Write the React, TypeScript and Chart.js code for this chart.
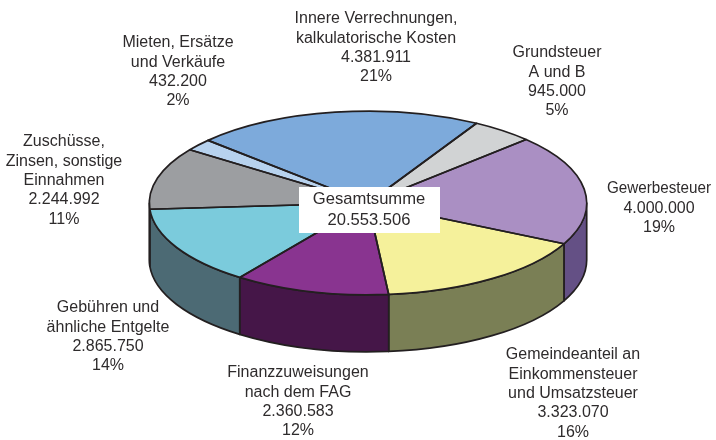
import React, { useEffect, useRef } from "react";
import { Chart, registerables } from "chart.js";

Chart.register(...registerables);

const categories: string[][] = [
  ["Innere Verrechnungen,", "kalkulatorische Kosten"],
  ["Grundsteuer", "A und B"],
  ["Gewerbesteuer"],
  ["Gemeindeanteil an", "Einkommensteuer", "und Umsatzsteuer"],
  ["Finanzzuweisungen", "nach dem FAG"],
  ["Gebühren und", "ähnliche Entgelte"],
  ["Zuschüsse,", "Zinsen, sonstige", "Einnahmen"],
  ["Mieten, Ersätze", "und Verkäufe"],
];
const values = [4381911, 945000, 4000000, 3323070, 2360583, 2865750, 2244992, 432200];
const valueLabels = ["4.381.911", "945.000", "4.000.000", "3.323.070", "2.360.583", "2.865.750", "2.244.992", "432.200"];
const percentLabels = ["21%", "5%", "19%", "16%", "12%", "14%", "11%", "2%"];
const topColors = ["#7DAADB", "#D1D3D4", "#AA8FC3", "#F5F19B", "#893490", "#7BCBDC", "#9C9EA1", "#B7D2EE"];
const wallColors = ["#4F6D8C", "#85878A", "#645085", "#7A7F55", "#451648", "#4C6A74", "#5E6062", "#74859A"];
const totalLines = ["Gesamtsumme", "20.553.506"];

// Label anchors: centre x, middle y of first line
const labelAnchors = [
  [376, 19], [557, 53], [659, 189], [573, 355], [298, 373], [108, 308], [64, 142], [178, 43],
];

const CX = 368, CY = 203, K = 0.42, DEPTH = 57, R = 218.7;
const LINE = "#231F20";
const TEXT = "#2E2B2C";
const FONT = '16px "Liberation Sans", Arial, sans-serif';
const TOTAL_FONT = '16.6px "Liberation Sans", Arial, sans-serif';
const LH = 19.3;
const NARROW: Record<string, number> = { Gewerbesteuer: 104 };

const pie3d = {
  id: "pie3d",
  beforeDatasetsDraw(chart: any) {
    const ctx = chart.ctx as CanvasRenderingContext2D;
    const arcs = chart.getDatasetMeta(0).data;
    const TAU = Math.PI * 2;
    ctx.save();
    ctx.lineWidth = 1.7;
    ctx.strokeStyle = LINE;
    ctx.lineJoin = "round";
    arcs.forEach((el: any, i: number) => {
      let s = el.startAngle, e = el.endAngle;
      // Try each wrap so the portion inside the lower half is found
      for (const off of [-TAU, 0, TAU]) {
        const a = Math.max(s + off, 0), b = Math.min(e + off, Math.PI);
        if (b > a) {
          ctx.beginPath();
          ctx.ellipse(CX, CY, el.outerRadius, el.outerRadius * K, 0, a, b);
          ctx.ellipse(CX, CY + DEPTH, el.outerRadius, el.outerRadius * K, 0, b, a, true);
          ctx.closePath();
          ctx.fillStyle = wallColors[i];
          ctx.fill();
          ctx.stroke();
        }
      }
    });
    ctx.restore();
    ctx.save();
    const ref = arcs[0];
    ctx.translate(CX, CY);
    ctx.scale(1, K);
    ctx.translate(-ref.x, -ref.y);
  },
  afterDatasetsDraw(chart: any) {
    const ctx = chart.ctx as CanvasRenderingContext2D;
    ctx.restore();
    const arcs = chart.getDatasetMeta(0).data;
    ctx.save();
    ctx.lineWidth = 1.7;
    ctx.strokeStyle = LINE;
    ctx.lineJoin = "round";
    arcs.forEach((el: any) => {
      ctx.beginPath();
      ctx.moveTo(CX, CY);
      ctx.ellipse(CX, CY, el.outerRadius, el.outerRadius * K, 0, el.startAngle, el.endAngle);
      ctx.closePath();
      ctx.stroke();
    });
    ctx.restore();
  },
  afterDraw(chart: any) {
    const ctx = chart.ctx as CanvasRenderingContext2D;
    ctx.save();
    ctx.fillStyle = "#FFFFFF";
    ctx.fillRect(299, 187, 141, 46);
    ctx.fillStyle = TEXT;
    ctx.textAlign = "center";
    ctx.textBaseline = "middle";
    ctx.font = TOTAL_FONT;
    totalLines.forEach((t, i) => ctx.fillText(t, 369, 199.5 + i * 21));
    ctx.font = FONT;
    categories.forEach((lines, i) => {
      const all = [...lines, valueLabels[i], percentLabels[i]];
      const [x, y] = labelAnchors[i];
      all.forEach((t, j) => {
        if (NARROW[t]) ctx.fillText(t, x, y + j * LH, NARROW[t]);
        else ctx.fillText(t, x, y + j * LH);
      });
    });
    ctx.restore();
  },
};

export default function App() {
  const ref = useRef<HTMLCanvasElement>(null);
  useEffect(() => {
    document.body.style.margin = "0";
    const chart = new Chart(ref.current!, {
      type: "pie",
      data: {
        labels: categories.map((c) => c.join(" ")),
        datasets: [{ data: values, backgroundColor: topColors, borderWidth: 0 }],
      },
      options: {
        responsive: false,
        animation: false,
        rotation: -47,
        radius: R,
        layout: { padding: 0 },
        plugins: { legend: { display: false }, tooltip: { enabled: false } },
      },
      plugins: [pie3d],
    } as any);
    return () => chart.destroy();
  }, []);
  return (
    <div style={{ width: 716, height: 440, background: "#fff" }}>
      <canvas ref={ref} width={716} height={440} style={{ display: "block" }} />
    </div>
  );
}
